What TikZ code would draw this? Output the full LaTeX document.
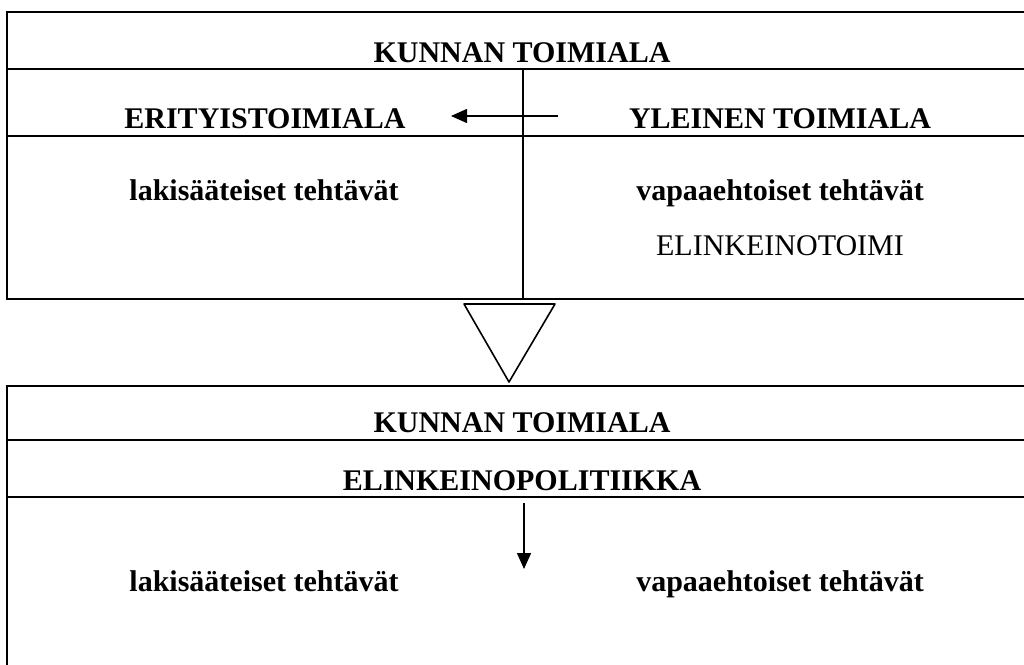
\documentclass[tikz,border=0pt]{standalone}
\usepackage{fontspec}
\setmainfont{Liberation Serif}
\usetikzlibrary{arrows.meta}

\begin{document}
\begin{tikzpicture}[x=1pt, y=-1pt,
	boxline/.style={line width=2.6pt},
	lbl/.style={anchor=base, inner sep=0pt, font=\fontsize{30}{36}\selectfont\bfseries},
	plainlbl/.style={anchor=base, inner sep=0pt, font=\fontsize{30}{36}\selectfont},
	toarrow/.style={line width=1.4pt, -{Triangle[length=16pt, width=14pt]}}]
			%%%%% START %%%%%
			\useasboundingbox (0, 0) rectangle (1024, 664);
			
			% upper box
			\draw[boxline] (7, 12) rectangle (1034, 299);
			\draw[boxline] (7, 69) -- (1034, 69);
			\draw[boxline] (7, 136) -- (1034, 136);
			\draw[line width=2pt] (523, 69) -- (523, 299);
			
			\node[lbl] (kunnanA) at (522, 62) {KUNNAN TOIMIALA};
			\node[lbl] (erityis) at (265, 128) {ERITYISTOIMIALA};
			\node[lbl] (yleinen) at (780, 128) {YLEINEN TOIMIALA};
			\node[lbl] (lakiA) at (264, 200) {lakisääteiset tehtävät};
			\node[lbl] (vapaaA) at (780, 200) {vapaaehtoiset tehtävät};
			\node[plainlbl] (elinktoimi) at (780, 255) {ELINKEINOTOIMI};
			
			\coordinate (yleinenTail) at (558, 116);
			\coordinate (erityisTip) at (451, 116);
			\draw[toarrow] (yleinenTail) -- (erityisTip);
			
			% funnel
			\draw[line width=1.6pt, line join=round] (464, 304) -- (555, 304) -- (509, 382) -- cycle;
			
			% lower box
			\draw[boxline] (7, 386) rectangle (1034, 680);
			\draw[boxline] (7, 440) -- (1034, 440);
			\draw[boxline] (7, 497) -- (1034, 497);
			
			\node[lbl] (kunnanB) at (522, 432) {KUNNAN TOIMIALA};
			\node[lbl] (elinkpol) at (522, 490) {ELINKEINOPOLITIIKKA};
			\node[lbl] (lakiB) at (264, 591) {lakisääteiset tehtävät};
			\node[lbl] (vapaaB) at (780, 591) {vapaaehtoiset tehtävät};
			
			\coordinate (polTail) at (524, 503);
			\coordinate (polTip) at (524, 569);
			\draw[toarrow] (polTail) -- (polTip);
			%%%%% END %%%%%
\end{tikzpicture}
\end{document}
